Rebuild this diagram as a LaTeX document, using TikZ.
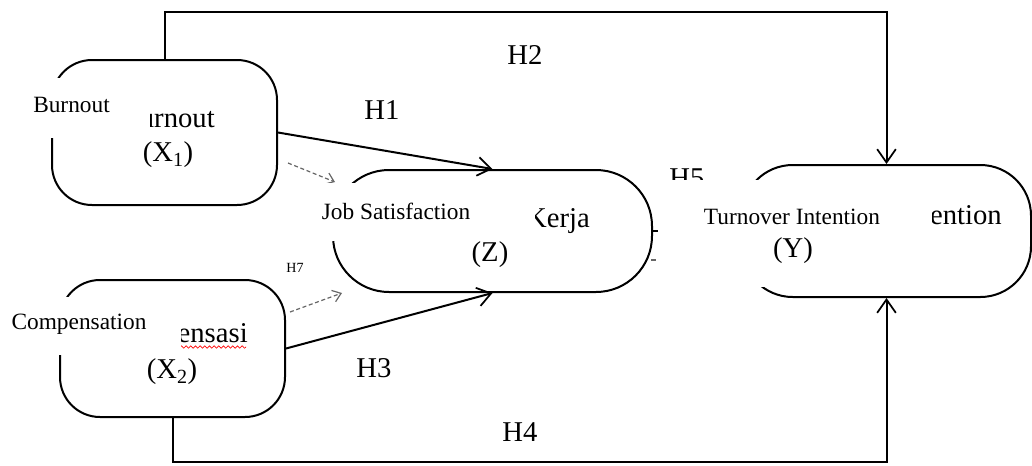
\documentclass[tikz,border=0pt]{standalone}
\usepackage{fontspec}
\setmainfont{Liberation Serif}
\usetikzlibrary{arrows.meta,decorations.pathmorphing}
\begin{document}
\begin{tikzpicture}[x=0.75pt,y=-0.75pt,
  box/.style={draw=black,line width=1.5pt,inner sep=0pt},
  conn/.style={draw=black,line width=1.5pt},
  arr/.style={conn,-{Straight Barb[length=10pt,width=14pt,line width=1.3pt]}},
  dasharr/.style={draw=gray!80!black,line width=0.9pt,dash pattern=on 3pt off 2pt,-{Straight Barb[length=6pt,width=9pt,line width=0.9pt]}},
  big/.style={font=\fontsize{21.5}{24}\selectfont,inner sep=0pt},
  small/.style={font=\fontsize{17.5}{20}\selectfont,inner sep=0pt},
  tiny/.style={font=\fontsize{10.5}{12}\selectfont,inner sep=0pt},
  mask/.style={fill=white,draw=none,inner sep=0pt},
]
\useasboundingbox (0,0) rectangle (1032,465);
% boxes
\node[box,rounded corners=30pt,minimum width=168.75pt,minimum height=108.75pt] (x1) at (164.5,132.5) {};
\node[box,rounded corners=30pt,minimum width=168.75pt,minimum height=102.75pt] (x2) at (172.5,348.5) {};
\node[box,rounded corners=42pt,minimum width=239.25pt,minimum height=91.5pt] (z) at (492.5,231) {};
\node[box,rounded corners=38pt,minimum width=216.75pt,minimum height=99pt] (yb) at (886.5,231) {};
% helper coordinates
\coordinate (topc) at (0,12);
\coordinate (botc) at (0,462);
\coordinate (d1s) at (288,163);
\coordinate (d1e) at (335,182);
\coordinate (d2s) at (290,312);
\coordinate (d2e) at (342,293);
\coordinate (d6s) at (651,260);
\coordinate (d6e) at (742,260);
% connectors
\draw[arr] (x1.north) -- (x1.north |- topc) -| (yb.north);
\draw[arr] (x2.south) -- (x2.south |- botc) -| (yb.south);
\draw[arr] (x1.east) -- (z.north);
\draw[arr] (x2.east) -- (z.south);
\draw[dasharr] (d1s) -- (d1e);
\draw[dasharr] (d2s) -- (d2e);
\draw[conn] (z.east) -- (yb.west);
\draw[draw=gray!80!black,line width=0.9pt,dash pattern=on 4pt off 3pt] (d6s) -- (d6e);
% original texts
\node[big,anchor=base east] (burn) at (215,127) {Burnout};
\node[big] (x1l) at (168,155) {(X\textsubscript{1})};
\node[big,anchor=base east] (komp) at (248,342) {Kompensasi};
\node[big] (x2l) at (172,372) {(X\textsubscript{2})};
\draw[red,line width=0.5pt,decorate,decoration={snake,amplitude=0.9pt,segment length=3.5pt}] (180,347) -- (246,347);
\node[big,anchor=base east] (kep) at (590,227) {Kepuasan Kerja};
\node[big] (zl) at (490,255) {(Z)};
\node[big,anchor=base east] (turn) at (1002,224) {Turnover Intention};
% hypothesis labels
\node[big] (h1) at (382,110) {H1};
\node[big] (h2) at (525,55) {H2};
\node[big] (h3) at (374,368) {H3};
\node[big] (h4) at (520,432) {H4};
\node[big] (h5) at (687,178) {H5};
\node[tiny] (h7) at (295,268) {H7};
% overlay masks
\node[mask,minimum width=93.75pt,minimum height=45pt] (m1) at (87.5,108) {};
\node[mask,minimum width=132pt,minimum height=43.5pt] (m2) at (93,326) {};
\node[mask,minimum width=172.5pt,minimum height=43.5pt] (m3) at (420,212) {};
\node[mask,minimum width=205.5pt,minimum height=80.25pt] (m4) at (795,233.5) {};
% overlay labels
\node[small] (lb) at (71.5,105) {Burnout};
\node[small] (lc) at (79,324) {Compensation};
\node[small] (lj) at (396,211) {Job Satisfaction};
\node[small] (lt) at (792,217) {Turnover Intention};
\node[big] (yl) at (793,251) {(Y)};
\end{tikzpicture}
\end{document}
